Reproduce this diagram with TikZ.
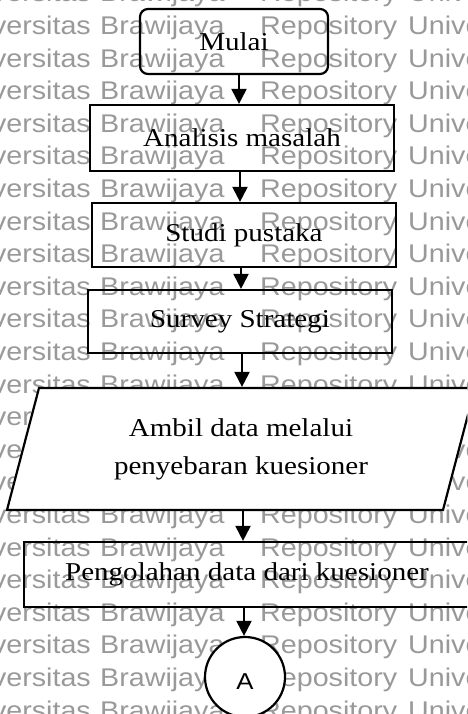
\documentclass[tikz,border=0pt]{standalone}
\usepackage{fontspec}
\setmainfont{Liberation Serif}[FakeStretch=1.13]
\newfontfamily\wmfont{Liberation Sans}[FakeStretch=1.12]
\usetikzlibrary{arrows.meta}
\begin{document}
\begin{tikzpicture}[x=1pt,y=-1pt,
  box/.style={draw, line width=2.2pt, inner sep=0pt, font=\fontsize{25.7}{38}\selectfont},
  arr/.style={line width=2pt, -{Triangle[length=15pt,width=15pt]}},
  wm/.style={text=black!40, font=\wmfont\fontsize{25.6}{30}\selectfont, inner sep=0pt}
]
\useasboundingbox (0,0) rectangle (467,714);
\clip (0,0) rectangle (467,714);
% watermark
\foreach \k in {-1,...,21} {
  \pgfmathsetmacro\yy{34.5+32.6*\k}
  \node[wm, anchor=base east] (wmv\k) at (91,\yy) {versitas};
  \node[wm, anchor=base west] (wmb\k) at (100,\yy) {Brawijaya};
  \node[wm, anchor=base west] (wmr\k) at (260,\yy) {Repository};
  \node[wm, anchor=base west] (wmu\k) at (408,\yy) {Universitas};
}
% nodes
\node[box, rounded corners=8pt, minimum width=188pt, minimum height=65pt] (mulai) at (234,41.5) {Mulai};
\node[box, minimum width=304pt, minimum height=66pt] (anal) at (242,138) {Analisis masalah};
\node[box, minimum width=304pt, minimum height=64pt] (studi) at (244,235) {Studi pustaka};
\node[box, minimum width=304pt, minimum height=63pt] (survey) at (240,321.5) {Survey Strategi};
\draw[line width=2.2pt, fill=white] (39,388) -- (475,388) -- (443,510) -- (7,510) -- cycle;
\node[box, draw=none, minimum width=300pt, minimum height=122pt, align=center] (para) at (241,449) {Ambil data melalui\\penyebaran kuesioner};
\node[box, minimum width=446pt, minimum height=65pt] (peng) at (247,574.5) {Pengolahan data dari kuesioner};
\node[draw, circle, line width=2.2pt, fill=white, minimum size=80pt, inner sep=0pt] (cA) at (245,677) {};
\node[font=\wmfont\fontsize{23}{26}\selectfont, inner sep=0pt] (cAlabel) at ([yshift=-5pt]cA.center) {A};
% arrows
\draw[arr] ([xshift=5pt]mulai.south) -- ([xshift=-3pt]anal.north);
\draw[arr] ([xshift=-2pt]anal.south) -- ([xshift=-4pt]studi.north);
\draw[arr] ([xshift=-3pt]studi.south) -- ([xshift=1pt]survey.north);
\draw[arr] ([xshift=2pt]survey.south) -- ([xshift=1pt]para.north);
\draw[arr] ([xshift=2pt]para.south) -- ([xshift=-4pt]peng.north);
\draw[arr] ([xshift=-3pt]peng.south) -- ([xshift=-1pt]cA.north);
\end{tikzpicture}
\end{document}
